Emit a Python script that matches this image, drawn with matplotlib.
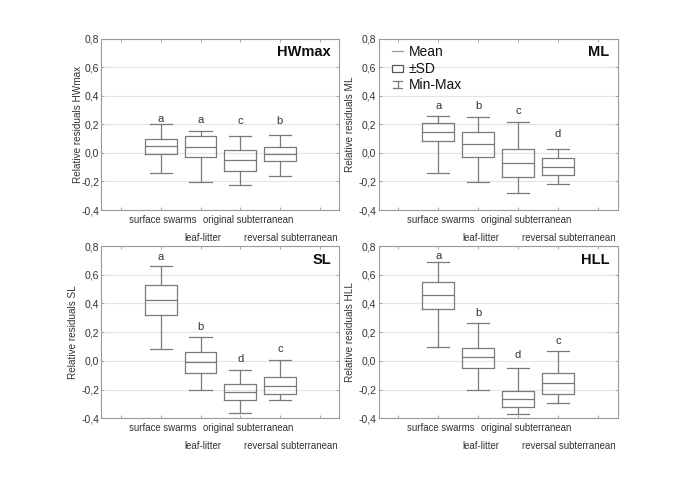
import matplotlib
matplotlib.use('Agg')
import matplotlib.pyplot as plt
from matplotlib.lines import Line2D
from matplotlib.patches import Rectangle
from matplotlib.legend_handler import HandlerBase
from matplotlib.ticker import FuncFormatter
from matplotlib.transforms import ScaledTranslation, blended_transform_factory

plt.rcParams['font.family'] = ['Liberation Sans', 'DejaVu Sans']

groups = ['surface swarms', 'leaf-litter', 'original subterranean', 'reversal subterranean']
panels = ['HWmax', 'ML', 'SL', 'HLL']

# mean, mean-SD, mean+SD, min, max per group
means = {
    'HWmax': [0.048, 0.039, -0.052, -0.008],
    'ML':    [0.148, 0.062, -0.071, -0.097],
    'SL':    [0.422, -0.010, -0.217, -0.173],
    'HLL':   [0.459, 0.025, -0.268, -0.156],
}
sd_lo = {
    'HWmax': [-0.008, -0.031, -0.127, -0.057],
    'ML':    [0.083, -0.029, -0.172, -0.155],
    'SL':    [0.322, -0.082, -0.272, -0.233],
    'HLL':   [0.359, -0.047, -0.324, -0.233],
}
sd_hi = {
    'HWmax': [0.099, 0.116, 0.018, 0.043],
    'ML':    [0.211, 0.148, 0.024, -0.039],
    'SL':    [0.526, 0.060, -0.163, -0.115],
    'HLL':   [0.552, 0.090, -0.208, -0.082],
}
mins = {
    'HWmax': [-0.143, -0.206, -0.227, -0.164],
    'ML':    [-0.139, -0.204, -0.279, -0.218],
    'SL':    [0.080, -0.203, -0.365, -0.275],
    'HLL':   [0.099, -0.203, -0.368, -0.291],
}
maxs = {
    'HWmax': [0.200, 0.155, 0.118, 0.122],
    'ML':    [0.258, 0.253, 0.213, 0.024],
    'SL':    [0.661, 0.164, -0.066, 0.004],
    'HLL':   [0.686, 0.262, -0.052, 0.067],
}
letters = {
    'HWmax': ['a', 'a', 'c', 'b'],
    'ML':    ['a', 'b', 'c', 'd'],
    'SL':    ['a', 'b', 'd', 'c'],
    'HLL':   ['a', 'b', 'd', 'c'],
}
letter_y = {
    'HWmax': [0.235, 0.228, 0.222, 0.224],
    'ML':    [0.328, 0.328, 0.293, 0.129],
    'SL':    [0.726, 0.234, 0.011, 0.083],
    'HLL':   [0.732, 0.331, 0.039, 0.138],
}

BOXC = '#7a7a7a'
TXT = '#333333'

# axes rectangles in figure fraction
rects = {
    'HWmax': [0.148, 0.566, 0.3474, 0.3543],
    'ML':    [0.5526, 0.566, 0.3492, 0.3543],
    'SL':    [0.148, 0.1357, 0.3474, 0.356],
    'HLL':   [0.5526, 0.1357, 0.3492, 0.356],
}
ylabel_x = {'HWmax': -0.078, 'ML': -0.097, 'SL': -0.097, 'HLL': -0.097}
# category labels: offset (points) right of box centre and below the axis
label_dx = [1.5, 1.7, 5.8, 7.7]
label_dy = [-7.3, -20.0, -7.3, -20.0]


class HandlerMinMax(HandlerBase):
    def create_artists(self, legend, orig_handle, xdescent, ydescent,
                       width, height, fontsize, trans):
        cx = width / 2 - xdescent
        y0 = -ydescent + height * 0.1
        y1 = -ydescent + height * 0.85
        arts = [Line2D([cx, cx], [y0, y1]),
                Line2D([cx - width * 0.45, cx + width * 0.45], [y0, y0]),
                Line2D([cx - width * 0.45, cx + width * 0.45], [y1, y1])]
        for a in arts:
            a.set_color(BOXC)
            a.set_linewidth(0.9)
            a.set_transform(trans)
        return arts


class HandlerBox(HandlerBase):
    def create_artists(self, legend, orig_handle, xdescent, ydescent,
                       width, height, fontsize, trans):
        r = Rectangle((-xdescent, -ydescent + height * 0.05), width, height * 0.75,
                      facecolor='white', edgecolor='#555555', linewidth=0.9,
                      transform=trans)
        return [r]


fig = plt.figure(figsize=(6.85, 4.84), dpi=100)
fig.patch.set_facecolor('white')

comma = FuncFormatter(lambda v, p: ('%.1f' % v).replace('.', ',').replace('-0,0', '0,0'))

for name in panels:
    ax = fig.add_axes(rects[name])
    stats = []
    for i in range(4):
        stats.append(dict(med=means[name][i], q1=sd_lo[name][i], q3=sd_hi[name][i],
                          whislo=mins[name][i], whishi=maxs[name][i], fliers=[]))
    lp = dict(color=BOXC, linewidth=0.9)
    ax.bxp(stats, positions=[1, 2, 3, 4], widths=0.8, showfliers=False,
           boxprops=lp, medianprops=lp, whiskerprops=lp, capprops=lp,
           capwidths=0.56, manage_ticks=False)

    for i in range(4):
        ax.text(i + 1, letter_y[name][i], letters[name][i], ha='center', va='center',
                fontsize=8, color=TXT)

    # group names in two staggered rows under the axis
    base = blended_transform_factory(ax.transData, ax.transAxes)
    for i, g in enumerate(groups):
        tr = base + ScaledTranslation(label_dx[i] / 72, label_dy[i] / 72, fig.dpi_scale_trans)
        ax.text(i + 1, 0, g, transform=tr, ha='center', va='center',
                fontsize=6.9, color=TXT)

    ax.set_xlim(-0.5, 5.5)
    ax.set_ylim(-0.4, 0.8)
    ax.set_yticks([-0.4, -0.2, 0.0, 0.2, 0.4, 0.6, 0.8])
    ax.yaxis.set_major_formatter(comma)
    ax.set_xticks(range(6))
    ax.grid(axis='y', color='#e4e4e4', linewidth=0.8)
    ax.set_axisbelow(True)
    ax.tick_params(direction='in', length=2.5, width=0.6, color='#999999',
                   labelsize=7.5, labelcolor=TXT, pad=1.5,
                   top=True, right=True)
    ax.tick_params(axis='x', labelbottom=False)
    for s in ax.spines.values():
        s.set_color('#9a9a9a')
        s.set_linewidth(0.8)
    ax.set_ylabel('Relative residuals ' + name, fontsize=7.2, color=TXT)
    ax.yaxis.set_label_coords(ylabel_x[name], 0.5)
    ax.text(0.965, 0.92, name, transform=ax.transAxes, ha='right', va='center',
            fontsize=10.5, fontweight='bold', color='#111111')

    if name == 'ML':
        h_mean = Line2D([], [], color='#9a9a9a', linewidth=0.9)
        h_sd = Rectangle((0, 0), 1, 1)
        h_mm = Line2D([], [])
        ax.legend([h_mean, h_sd, h_mm], ['Mean', '±SD', 'Min-Max'],
                  handler_map={Rectangle: HandlerBox(), h_mm: HandlerMinMax()},
                  loc='upper left', bbox_to_anchor=(0.0, 1.045), frameon=False,
                  fontsize=10, handlelength=0.75, handletextpad=0.4,
                  labelspacing=0.2, borderaxespad=0.6, labelcolor='#111111')

fig.savefig('out.png', dpi=100, facecolor='white')
